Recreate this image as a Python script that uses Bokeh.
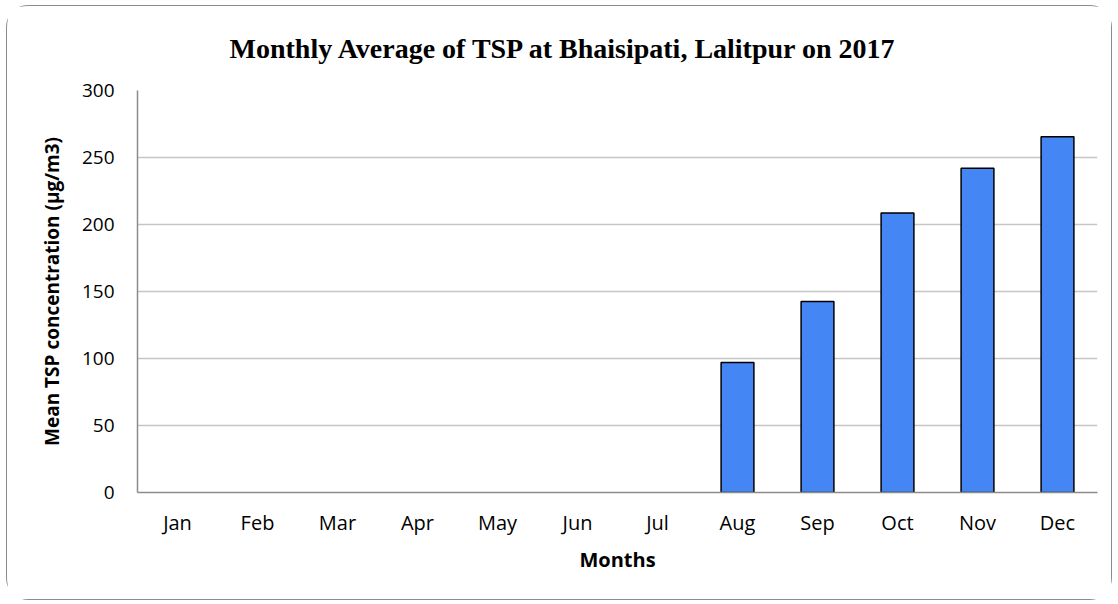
from bokeh.plotting import figure
from bokeh.embed import file_html
from bokeh.resources import INLINE
from bokeh.models import ColumnDataSource, Range1d, FixedTicker, Title

months = ["Jan", "Feb", "Mar", "Apr", "May", "Jun", "Jul", "Aug", "Sep", "Oct", "Nov", "Dec"]
tsp = [None, None, None, None, None, None, None, 97, 142.5, 208.5, 242, 265.5]
y_ticks = [0, 50, 100, 150, 200, 250, 300]
title_text = "Monthly Average of TSP at Bhaisipati, Lalitpur on 2017"

xs = [m for m, v in zip(months, tsp) if v is not None]
ys = [v for v in tsp if v is not None]
src = ColumnDataSource(dict(month=xs, tsp=ys))

W, H = 1106, 595
p = figure(x_range=months, y_range=Range1d(0, 300), width=W, height=H,
           output_backend="svg", toolbar_location=None,
           min_border_left=130, min_border_right=16, min_border_top=84, min_border_bottom=109)
p.styles = {"border": "1px solid #8c8c8c", "border-radius": "22px",
            "box-sizing": "border-box", "margin": "5px 0 0 6px"}

p.add_layout(Title(text=title_text, align="left", vertical_align="top",
                   text_font="Liberation Serif", text_font_size="28px",
                   text_font_style="bold", text_color="#000000", offset=92, standoff=50), "above")

p.vbar(x="month", top="tsp", source=src, width=0.41, fill_color="#4486F4",
       line_color="#000000", line_width=1.5)

p.outline_line_color = None
p.xgrid.grid_line_color = None
p.ygrid.grid_line_color = "#c6c6c6"
p.ygrid.grid_line_width = 1.5
p.yaxis.ticker = FixedTicker(ticks=y_ticks)

for ax in (p.xaxis[0], p.yaxis[0]):
    ax.axis_line_color = "#8c8c8c"
    ax.axis_line_width = 1.5
    ax.major_tick_line_color = None
    ax.minor_tick_line_color = None
    ax.major_label_text_font = "Open Sans"
    ax.major_label_text_color = "#000000"
    ax.axis_label_text_font = "Open Sans"
    ax.axis_label_text_font_size = "19px"
    ax.axis_label_text_font_style = "bold"
    ax.axis_label_text_color = "#000000"

p.xaxis.major_label_text_font_size = "20px"
p.yaxis.major_label_text_font_size = "19px"
p.yaxis.major_label_standoff = 17
p.xaxis.major_label_standoff = 10
p.xaxis.axis_label = "Months"
p.xaxis.axis_label_text_font_size = "20px"
p.xaxis.axis_label_standoff = 7
p.yaxis.axis_label = "Mean TSP concentration (µg/m3)"
p.yaxis.axis_label_standoff = 14

open("out.html", "w").write(file_html(p, INLINE))
